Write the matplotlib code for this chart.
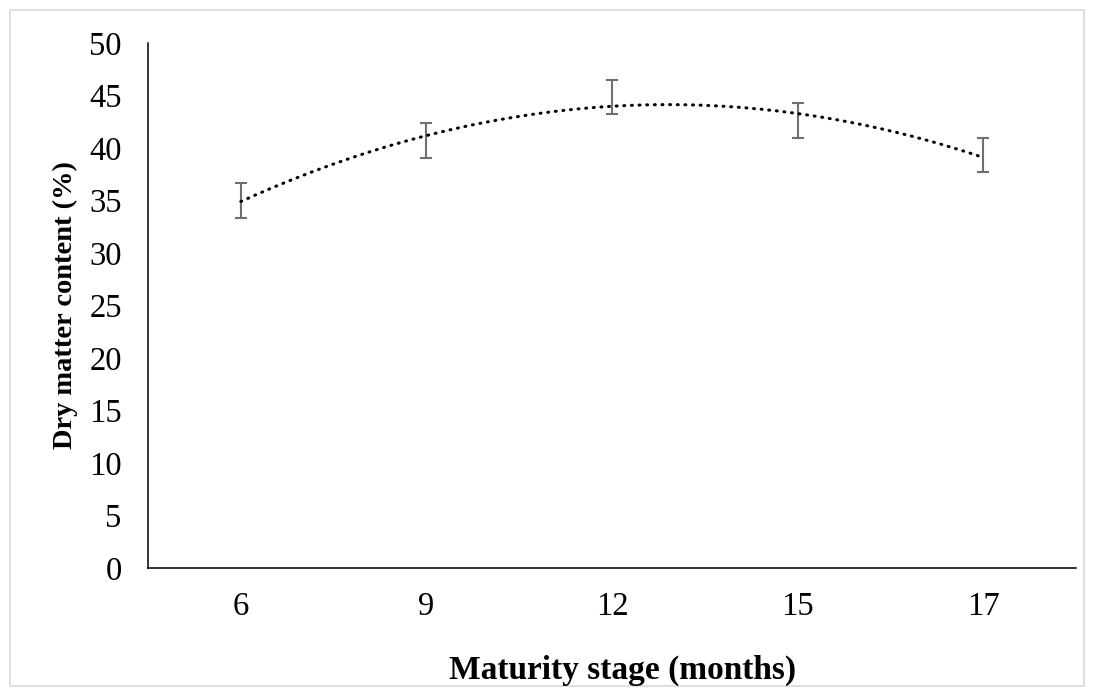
import numpy as np
import matplotlib
matplotlib.use("Agg")
import matplotlib.pyplot as plt
from matplotlib.patches import Rectangle

# Data
stages = ["6", "9", "12", "15", "17"]
dry_matter = [35.0, 40.7, 44.85, 42.6, 39.3]
dry_matter_err = [1.65, 1.67, 1.63, 1.67, 1.62]

plt.rcParams["font.family"] = ["Liberation Serif", "DejaVu Serif"]

fig = plt.figure(figsize=(10.94, 6.96), dpi=100)
ax = fig.add_axes([0.1353, 0.1839, 0.8482, 0.7543])

x = np.arange(1, len(stages) + 1)

# error bars only, no markers (Excel style)
ax.errorbar(x, dry_matter, yerr=dry_matter_err, fmt="none",
            ecolor="#707070", elinewidth=1.5, capsize=4.5, capthick=1.5,
            zorder=2)

# 2nd order polynomial trendline over categories
coef = np.polyfit(x, dry_matter, 2)
xs = np.linspace(x[0], x[-1], 300)
ax.plot(xs, np.polyval(coef, xs), color="black", linewidth=2.2,
        linestyle=(0, (0.3, 2.2)), dash_capstyle="round", zorder=3)

ax.set_xlim(0.5, len(stages) + 0.5)
ax.set_ylim(0, 50)
ax.set_yticks(np.arange(0, 51, 5))
ax.set_xticks(x)
ax.set_xticklabels(stages)

for side in ["top", "right"]:
    ax.spines[side].set_visible(False)
for side in ["left", "bottom"]:
    ax.spines[side].set_linewidth(1.1)
    ax.spines[side].set_color("black")

ax.tick_params(axis="both", length=0, labelsize=23.5)
ax.tick_params(axis="x", pad=17)
ax.tick_params(axis="y", pad=19)

fig.text(623 / 1094, 1 - 670 / 696, "Maturity stage (months)", ha="center",
         va="center", fontsize=24, fontweight="bold")
fig.text(65 / 1094, 1 - 305 / 696, "Dry matter content (%)", ha="center",
         va="center", rotation=90, fontsize=20.5, fontweight="bold")

# light chart-area border
fig.patches.append(Rectangle((10 / 1094, 10 / 696), 1 - 20 / 1094, 1 - 20 / 696,
                             transform=fig.transFigure, fill=False,
                             edgecolor="#d9d9d9", linewidth=1.2))

fig.savefig("out.png", dpi=100)
